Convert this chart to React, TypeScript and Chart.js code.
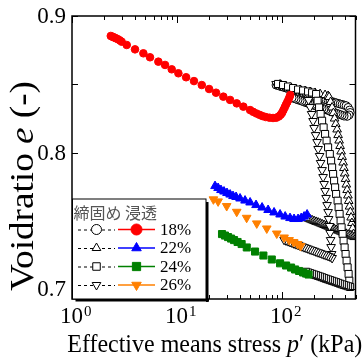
import React, { useEffect, useRef } from 'react';
import { Chart, registerables } from 'chart.js';

Chart.register(...registerables);

// ---------- data (p' in kPa, void ratio e) ----------
// 浸透 (infiltration) series
const inf18P = [2.34, 2.42, 2.5, 2.6, 2.72, 2.85, 2.97, 3.32, 3.98, 4.78, 5.53, 6.64, 7.69, 8.9, 10.3, 12.2, 14.5, 17.2, 20.2, 23.5, 27.6, 32, 37, 42.8, 49.6, 53, 57, 61, 65, 70, 76, 82, 88, 93, 97, 100, 103, 106, 109, 112, 115, 117.5, 119.5];
const inf18E = [0.8854, 0.8849, 0.8844, 0.8838, 0.8831, 0.8822, 0.8812, 0.8788, 0.8756, 0.8727, 0.8698, 0.8666, 0.8642, 0.861, 0.8581, 0.8552, 0.8524, 0.8495, 0.8466, 0.8439, 0.841, 0.8386, 0.8361, 0.8337, 0.8312, 0.8299, 0.8287, 0.8277, 0.8268, 0.8261, 0.8256, 0.8254, 0.8256, 0.8265, 0.8278, 0.8292, 0.8312, 0.8332, 0.8352, 0.837, 0.8388, 0.8405, 0.8422];

const inf22P = [23.0, 24.6, 26.2, 28.0, 29.9, 32.0, 34.1, 36.5, 39.8, 44.4, 49.6, 56.5, 64.5, 73.6, 83.9, 95.7, 107, 119, 130, 142, 152, 162, 173];
const inf22E = [0.7756, 0.7742, 0.7727, 0.7716, 0.7705, 0.7694, 0.7683, 0.7676, 0.7665, 0.765, 0.7636, 0.7617, 0.7599, 0.7581, 0.7563, 0.7548, 0.7533, 0.7522, 0.7515, 0.7515, 0.7522, 0.7533, 0.7548];

const inf24P = [26.8, 28.6, 30.6, 32.7, 34.9, 37.7, 41.2, 46.1, 55.3, 66.4, 79.8, 95.7, 109.2, 121.8, 133, 145.2, 158.5, 169.3, 178.8];
const inf24E = [0.7405, 0.7394, 0.7383, 0.7372, 0.7361, 0.7347, 0.7332, 0.7307, 0.7277, 0.7248, 0.7219, 0.7191, 0.7175, 0.716, 0.7146, 0.7135, 0.7124, 0.7116, 0.7109];

const inf26P = [22.2, 24.6, 29.7, 37, 46, 57.4, 71.5, 89, 104.5, 116.6, 128.7, 140.5, 150.1];
const inf26E = [0.7659, 0.7644, 0.761, 0.7568, 0.7524, 0.7483, 0.7446, 0.7409, 0.738, 0.7361, 0.7347, 0.7332, 0.7317];

// 締固め (compaction) series
const comp18P = [87.7, 91.6, 95.7, 100, 104.5, 109.1, 114.1, 119.2, 124.5, 130.1, 135.9, 142, 148.4, 155, 162, 169.3, 176.8, 184.8, 193.1, 201.8, 210.8, 220.3, 230.1, 240.4, 251.2, 262.4, 274.2, 286.5, 299.4, 312.8, 326.8, 341.5, 356.8, 372.8, 389.5, 407, 425.3, 439.5, 444.4, 434.7, 416, 389.5, 372.8, 356.8, 341.5, 326.8, 312.8, 299.4, 286.5, 274.2, 262.4, 251.2, 240.4, 230.1, 220.3, 210.8, 201.8, 193.1, 184.8, 176.8, 169.3, 162, 155, 148.4, 142, 135.9, 130.1, 124.5];
const comp18E = [0.8495, 0.8491, 0.8486, 0.8482, 0.8478, 0.8473, 0.8469, 0.8465, 0.8461, 0.8456, 0.8452, 0.8448, 0.8443, 0.8439, 0.8435, 0.843, 0.8426, 0.8421, 0.8417, 0.8413, 0.8409, 0.8405, 0.84, 0.8396, 0.8391, 0.8387, 0.8383, 0.8378, 0.8374, 0.8369, 0.8365, 0.8361, 0.8356, 0.8353, 0.8348, 0.8344, 0.8331, 0.8312, 0.8294, 0.8276, 0.8266, 0.8268, 0.8274, 0.8279, 0.8284, 0.8289, 0.8294, 0.8299, 0.8304, 0.8309, 0.8315, 0.832, 0.8326, 0.8331, 0.8336, 0.8341, 0.8346, 0.8351, 0.8356, 0.8361, 0.8366, 0.8372, 0.8377, 0.8382, 0.8387, 0.8392, 0.8397, 0.8402];

const comp22P = [95.7, 106.9, 119.2, 133, 148.4, 165.6, 184.8, 206.2, 230.1, 256.7, 274.2, 280.3, 289.7, 299.4, 308.1, 316.2, 324.7, 334.1, 341.5, 349.1, 356.8, 364.7, 372.8, 381.1, 387.8, 394.6, 401.6, 408.7, 416, 423.4, 430.8, 438.4, 446.2, 454.2, 462.2, 470.4, 478.6, 485.1, 464.2, 444.4, 425.3, 407, 389.5, 372.8, 356.8, 341.5, 326.8, 312.8, 299.4, 286.5, 274.2, 262.4, 251.2, 240.4, 230.1, 220.3, 210.8, 201.8, 193.1, 184.8, 176.8, 169.3];
const comp22E = [0.8499, 0.8488, 0.8477, 0.8466, 0.8459, 0.8451, 0.8444, 0.8437, 0.8429, 0.8422, 0.8415, 0.8407, 0.8371, 0.8331, 0.829, 0.825, 0.821, 0.817, 0.8129, 0.8089, 0.8049, 0.8009, 0.7969, 0.7928, 0.7888, 0.7848, 0.7808, 0.7767, 0.7727, 0.7687, 0.7647, 0.7606, 0.7566, 0.7526, 0.7486, 0.7446, 0.7405, 0.7383, 0.7389, 0.7395, 0.7401, 0.7407, 0.7413, 0.7418, 0.7424, 0.743, 0.7436, 0.7442, 0.7448, 0.7454, 0.7459, 0.7465, 0.7471, 0.7477, 0.7483, 0.7489, 0.7494, 0.75, 0.7506, 0.7512, 0.7518, 0.7524];

const comp24P = [91.6, 102.2, 114, 127.3, 142, 158.5, 176.8, 193.1, 210.8, 217.8, 225.1, 232.7, 240.4, 248.5, 256.7, 265.3, 274.2, 284.7, 292.9, 299.4, 306, 312.8, 319.8, 326.8, 337.8, 345.3, 352.9, 360.7, 368.7, 376.9, 385.2, 393.8, 402.5, 411.4, 420.6, 429.9, 436.5, 444.4, 425.3, 407, 389.5, 372.8, 356.8, 341.5, 326.8, 312.8, 299.4, 286.5, 274.2, 262.4, 251.2, 240.4, 230.1, 220.3, 210.8, 201.8, 193.1, 184.8, 176.8, 169.3];
const comp24E = [0.8503, 0.8495, 0.8484, 0.8473, 0.8462, 0.8455, 0.8448, 0.844, 0.8429, 0.838, 0.8331, 0.8283, 0.8234, 0.8185, 0.8137, 0.8088, 0.8039, 0.799, 0.7941, 0.7892, 0.7844, 0.7795, 0.7746, 0.7698, 0.7649, 0.76, 0.7552, 0.7503, 0.7454, 0.7405, 0.7356, 0.7307, 0.7259, 0.721, 0.7161, 0.7113, 0.7064, 0.7018, 0.7023, 0.7028, 0.7032, 0.7037, 0.7042, 0.7048, 0.7053, 0.7058, 0.7063, 0.7068, 0.7073, 0.7078, 0.7083, 0.7089, 0.7094, 0.7099, 0.7104, 0.7109, 0.7114, 0.7119, 0.7124, 0.7129];

const comp26P = [87.7, 95.7, 104.5, 114, 124.5, 135.9, 148.4, 162, 173, 178.8, 184.8, 191, 197.3, 201.8, 208.5, 215.4, 220.3, 227.6, 232.7, 240.4, 245.8, 251.2, 256.7, 262.4, 268.3, 274.2, 277.2, 283.4, 286.5, 289.7, 292.9, 296.1, 299.4, 286.5, 274.2, 262.4, 251.2, 240.4, 230.1, 220.3, 210.8, 201.8, 193.1, 184.8, 176.8, 169.3, 162, 155, 148.4, 142, 135.9, 130.1, 124.5, 119.2, 114.1, 109.1, 104.5];
const comp26E = [0.8503, 0.8495, 0.8488, 0.8481, 0.8473, 0.8462, 0.8455, 0.8444, 0.8437, 0.8386, 0.8334, 0.8283, 0.8232, 0.8181, 0.8129, 0.8078, 0.8027, 0.7976, 0.7925, 0.7873, 0.7822, 0.7771, 0.772, 0.7669, 0.7617, 0.7566, 0.7515, 0.7464, 0.7413, 0.7361, 0.731, 0.7259, 0.723, 0.724, 0.7245, 0.7251, 0.7256, 0.7261, 0.7267, 0.7272, 0.7277, 0.7283, 0.7288, 0.7293, 0.7299, 0.7304, 0.7309, 0.7315, 0.732, 0.7326, 0.7331, 0.7336, 0.7342, 0.7347, 0.7353, 0.7358, 0.7363];

// axes / labels
const xMin = 1;
const xMax = 500;
const yMin = 0.693;
const yMax = 0.9;
const xDecades = [1, 10, 100];
const xExponents = ['0', '1', '2'];
const yMajorTicks = [0.7, 0.8, 0.9];
const yMajorLabels = ['0.7', '0.8', '0.9'];
const yMinorTicks = [0.75, 0.85];
const legendHeader = '締固め 浸透';
const legendLabels = ['18%', '22%', '24%', '26%'];
const legendStyles = ['circle', 'triangle', 'rect', 'triangleDown'];
const legendColors = ['#ff0000', '#0000ff', '#008000', '#ff8000'];

const zip = (p: number[], e: number[]) => p.map((v, i) => ({ x: v, y: e[i] }));

const SERIF = '"Liberation Serif", "Times New Roman", serif';

function drawMarker(ctx: CanvasRenderingContext2D, style: string, x: number, y: number, r: number, fill: string, stroke: string) {
  ctx.beginPath();
  if (style === 'circle') {
    ctx.arc(x, y, r, 0, Math.PI * 2);
  } else if (style === 'triangle') {
    ctx.moveTo(x, y - r);
    ctx.lineTo(x + r * 0.866, y + r * 0.5);
    ctx.lineTo(x - r * 0.866, y + r * 0.5);
    ctx.closePath();
  } else if (style === 'triangleDown') {
    ctx.moveTo(x, y + r);
    ctx.lineTo(x + r * 0.866, y - r * 0.5);
    ctx.lineTo(x - r * 0.866, y - r * 0.5);
    ctx.closePath();
  } else {
    const s = r * 0.75;
    ctx.rect(x - s, y - s, 2 * s, 2 * s);
  }
  ctx.fillStyle = fill;
  ctx.fill();
  ctx.lineWidth = 1;
  ctx.strokeStyle = stroke;
  ctx.stroke();
}

type Seg = { t: string; it?: boolean };
function drawRich(ctx: CanvasRenderingContext2D, segs: Seg[], size: number, targetWidth: number) {
  const widths = segs.map((s) => {
    ctx.font = `${s.it ? 'italic ' : ''}${size}px ${SERIF}`;
    return ctx.measureText(s.t).width;
  });
  const total = widths.reduce((a, b) => a + b, 0);
  const sc = targetWidth / total;
  ctx.save();
  ctx.scale(sc, 1);
  let x = -total / 2;
  segs.forEach((s, i) => {
    ctx.font = `${s.it ? 'italic ' : ''}${size}px ${SERIF}`;
    ctx.fillText(s.t, x, 0);
    x += widths[i];
  });
  ctx.restore();
}

const framePlugin = {
  id: 'frameAndText',
  afterDraw(chart: any) {
    const { ctx, chartArea: ca, scales } = chart;
    const xs = scales.x;
    const ys = scales.y;
    ctx.save();
    ctx.fillStyle = '#000';
    ctx.strokeStyle = '#000';

    ctx.lineWidth = 1;
    for (const d of xDecades) {
      for (let m = 1; m <= 9; m++) {
        const v = m * d;
        if (v > xMax) continue;
        const px = Math.round(xs.getPixelForValue(v)) + 0.5;
        const len = m === 1 ? 7 : 4;
        ctx.beginPath();
        ctx.moveTo(px, ca.bottom);
        ctx.lineTo(px, ca.bottom - len);
        ctx.moveTo(px, ca.top);
        ctx.lineTo(px, ca.top + len);
        ctx.stroke();
      }
    }
    for (const v of [...yMajorTicks, ...yMinorTicks]) {
      const py = Math.round(ys.getPixelForValue(v)) + 0.5;
      const len = 6;
      ctx.beginPath();
      ctx.moveTo(ca.left, py);
      ctx.lineTo(ca.left + len, py);
      ctx.moveTo(ca.right, py);
      ctx.lineTo(ca.right - len, py);
      ctx.stroke();
    }

    ctx.lineWidth = 1.5;
    ctx.strokeRect(ca.left, ca.top, ca.right - ca.left, ca.bottom - ca.top);

    ctx.font = `23px ${SERIF}`;
    ctx.textAlign = 'right';
    ctx.textBaseline = 'middle';
    yMajorTicks.forEach((v, i) => {
      ctx.fillText(yMajorLabels[i], ca.left - 6, ys.getPixelForValue(v) + 1);
    });

    ctx.textBaseline = 'alphabetic';
    xDecades.forEach((v, i) => {
      const px = xs.getPixelForValue(v);
      ctx.font = `23px ${SERIF}`;
      ctx.textAlign = 'center';
      ctx.fillText('10', px - 0.5, 323);
      ctx.font = `15px ${SERIF}`;
      ctx.textAlign = 'left';
      ctx.fillText(xExponents[i], px + 12, 316);
    });

    ctx.save();
    ctx.translate((ca.left + ca.right) / 2 + 1, 352);
    drawRich(ctx, [{ t: 'Effective means stress ' }, { t: 'p', it: true }, { t: '′ (kPa)' }], 25, 295);
    ctx.restore();

    ctx.save();
    ctx.translate(33, 186);
    ctx.rotate(-Math.PI / 2);
    drawRich(ctx, [{ t: 'Voidratio ' }, { t: 'e', it: true }, { t: ' (-)' }], 34, 210);
    ctx.restore();

    // legend box
    const bx = ca.left + 0.5;
    const by = 199;
    const bw = 133.5;
    const bh = ca.bottom - by;
    ctx.fillStyle = '#fff';
    ctx.fillRect(bx, by, bw, bh);
    ctx.fillStyle = '#000';
    ctx.fillRect(bx + bw, by + 3, 2.5, bh);
    ctx.fillRect(bx + 3, by + bh, bw, 2.5);
    ctx.lineWidth = 1;
    ctx.strokeRect(bx, by, bw, bh);

    ctx.fillStyle = '#555';
    ctx.font = '16px "Noto Sans CJK JP", sans-serif';
    ctx.textAlign = 'left';
    ctx.textBaseline = 'middle';
    ctx.fillText(legendHeader, bx + 1, 213);

    const rows = [229.5, 248, 266.5, 285];
    rows.forEach((ry, i) => {
      ctx.save();
      ctx.strokeStyle = '#000';
      ctx.lineWidth = 1;
      ctx.setLineDash([3, 3]);
      ctx.beginPath();
      ctx.moveTo(78, ry + 0.5);
      ctx.lineTo(115, ry + 0.5);
      ctx.stroke();
      ctx.restore();
      drawMarker(ctx, legendStyles[i], 96.5, ry, 5, '#fff', '#000');
      ctx.strokeStyle = legendColors[i];
      ctx.lineWidth = 1.5;
      ctx.beginPath();
      ctx.moveTo(118, ry);
      ctx.lineTo(155, ry);
      ctx.stroke();
      drawMarker(ctx, legendStyles[i], 136.5, ry, 5.5, legendColors[i], legendColors[i]);
      ctx.fillStyle = '#000';
      ctx.font = `17px ${SERIF}`;
      ctx.textBaseline = 'middle';
      ctx.fillText(legendLabels[i], 160, ry + 1);
    });

    ctx.restore();
  },
};

const openDs = (p: number[], e: number[], style: string, radius: number, rot = 0) => ({
  data: zip(p, e),
  pointStyle: style,
  pointRotation: rot,
  pointRadius: radius,
  pointBackgroundColor: '#ffffff',
  pointBorderColor: '#000000',
  pointBorderWidth: 1,
  showLine: false,
  order: 2,
});

const fillDs = (p: number[], e: number[], style: string, radius: number, color: string, rot = 0) => ({
  data: zip(p, e),
  pointStyle: style,
  pointRotation: rot,
  pointRadius: radius,
  pointBackgroundColor: color,
  pointBorderColor: color,
  pointBorderWidth: 1,
  showLine: false,
  order: 1,
});

export default function App() {
  const ref = useRef<HTMLCanvasElement>(null);
  useEffect(() => {
    if (!ref.current) return;
    const chart = new Chart(ref.current, {
      type: 'scatter',
      data: {
        datasets: [
          openDs(comp24P, comp24E, 'rect', 5),
          openDs(comp26P, comp26E, 'triangle', 5, 180),
          openDs(comp22P, comp22E, 'triangle', 5),
          openDs(comp18P, comp18E, 'circle', 4),
          fillDs(inf18P, inf18E, 'circle', 3.8, '#ff0000'),
          fillDs(inf22P, inf22E, 'triangle', 5, '#0000ff'),
          fillDs(inf24P, inf24E, 'rect', 5, '#008000'),
          fillDs(inf26P, inf26E, 'triangle', 5, '#ff8000', 180),
        ] as any,
      },
      options: {
        responsive: false,
        animation: false,
        devicePixelRatio: 1,
        events: [],
        layout: { padding: { left: 72, top: 16, right: 7.5, bottom: 62 } },
        plugins: { legend: { display: false }, tooltip: { enabled: false } },
        scales: {
          x: { type: 'logarithmic', min: xMin, max: xMax, display: false },
          y: { type: 'linear', min: yMin, max: yMax, display: false },
        },
      } as any,
      plugins: [framePlugin],
    });
    return () => chart.destroy();
  }, []);
  return (
    <div style={{ position: 'absolute', left: 0, top: 0, width: 363, height: 361, background: '#fff' }}>
      <canvas ref={ref} width={363} height={361} style={{ display: 'block', width: 363, height: 361 }} />
    </div>
  );
}
